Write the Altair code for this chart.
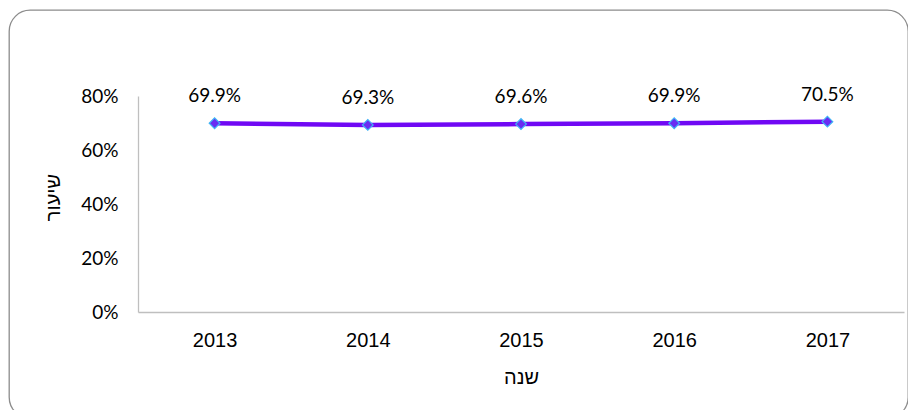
import altair as alt
import pandas as pd

years = ["2013", "2014", "2015", "2016", "2017"]
rates = [69.9, 69.3, 69.6, 69.9, 70.5]
y_ticks = [0, 0.2, 0.4, 0.6, 0.8]
x_title = "שנה"
y_title = "שיעור"

df = pd.DataFrame({"year": years, "rate": [r / 100 for r in rates]})

LINE = "#7008f4"

x_enc = alt.X(
    "year:O",
    scale=alt.Scale(type="point", range=[129, 895], padding=0.5),
    axis=alt.Axis(
        title=x_title,
        labelAngle=0,
        labelFont="Liberation Sans",
        labelFontSize=20,
        labelColor="#000000",
        labelPadding=18,
        ticks=False,
        tickSize=0,
        domainColor="#bfbfbf",
        domainWidth=1.3,
        grid=False,
        offset=-106,
        titleFont="Liberation Sans",
        titleFontSize=20,
        titleFontWeight="normal",
        titleColor="#000000",
        titleX=512,
        titleY=71,
        titleBaseline="alphabetic",
        titleAlign="center",
    ),
)
y_enc = alt.Y(
    "rate:Q",
    scale=alt.Scale(domain=[0, 0.8], range=[302, 86], nice=False, zero=True),
    axis=alt.Axis(
        title=y_title,
        values=y_ticks,
        format=".0%",
        labelFont="Lato",
        labelFontSize=19,
        labelColor="#000000",
        labelPadding=20,
        ticks=False,
        tickSize=0,
        domainColor="#bfbfbf",
        domainWidth=1.3,
        grid=False,
        offset=-129,
        titleFont="Liberation Sans",
        titleFontSize=20,
        titleFontWeight="normal",
        titleColor="#000000",
        titleAngle=270,
        titleX=-85,
        titleY=187,
        titleBaseline="middle",
        titleAlign="center",
    ),
)

base = alt.Chart(df).encode(x=x_enc, y=y_enc)

line = base.mark_line(color=LINE, strokeWidth=4.5)
points = base.mark_point(
    shape="diamond", filled=True, fill="#6a2cf2", stroke="#3fb4f5",
    strokeWidth=1.2, size=115, opacity=1,
)
labels = base.mark_text(
    font="Lato", fontSize=19, color="#000000", dy=-21, baseline="alphabetic",
    align="center",
).encode(text=alt.Text("rate:Q", format=".1%"))

chart = (
    alt.layer(line, points, labels)
    .properties(
        width=899,
        height=408,
        autosize=alt.AutoSizeParams(type="none"),
        padding={"left": 1, "top": 2, "right": 0, "bottom": 0},
        background="white",
    )
    .configure_view(stroke="#8c8c8c", strokeWidth=1.3, cornerRadius=21)
)

chart.save("out.html", embed_options={"renderer": "svg", "actions": False})
